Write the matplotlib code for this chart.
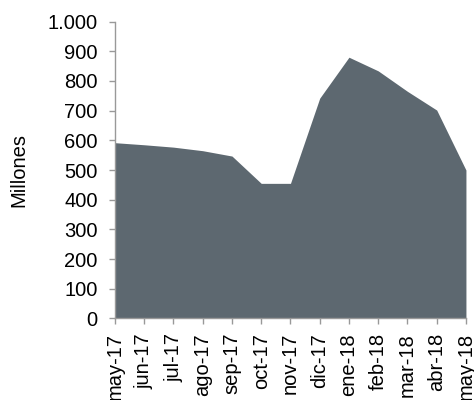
import matplotlib
matplotlib.use("Agg")
import matplotlib.pyplot as plt
from matplotlib.ticker import FuncFormatter

months = ['may-17', 'jun-17', 'jul-17', 'ago-17', 'sep-17', 'oct-17', 'nov-17',
          'dic-17', 'ene-18', 'feb-18', 'mar-18', 'abr-18', 'may-18']
values = [592, 585, 577, 565, 547, 455, 455, 742, 880, 834, 765, 702, 500]

plt.rcParams['font.family'] = ['Liberation Sans', 'DejaVu Sans']

fig = plt.figure(figsize=(4.74, 4.0), dpi=100)
ax = fig.add_axes([0.2426, 0.204, 0.7404, 0.742])

x = list(range(len(months)))
ax.fill_between(x, 0, values, color='#5d6870', linewidth=0)

ax.set_xlim(0, len(months) - 1)
ax.set_ylim(0, 1000)
ax.set_yticks(range(0, 1001, 100))
ax.yaxis.set_major_formatter(FuncFormatter(lambda v, p: f'{int(v):,}'.replace(',', '.')))
ax.set_xticks(x)
ax.set_xticklabels(months, rotation=90)

for s in ['top', 'right']:
    ax.spines[s].set_visible(False)
for s in ['left', 'bottom']:
    ax.spines[s].set_color('#999999')
    ax.spines[s].set_linewidth(1.0)
ax.tick_params(axis='both', colors='#999999', labelcolor='black', labelsize=14.5,
               length=4.5, width=1.0, direction='out')
ax.tick_params(axis='y', pad=8)
ax.tick_params(axis='x', pad=6)
ax.set_ylabel('Millones', fontsize=14.5, labelpad=14)

fig.savefig('out.png', dpi=100)
